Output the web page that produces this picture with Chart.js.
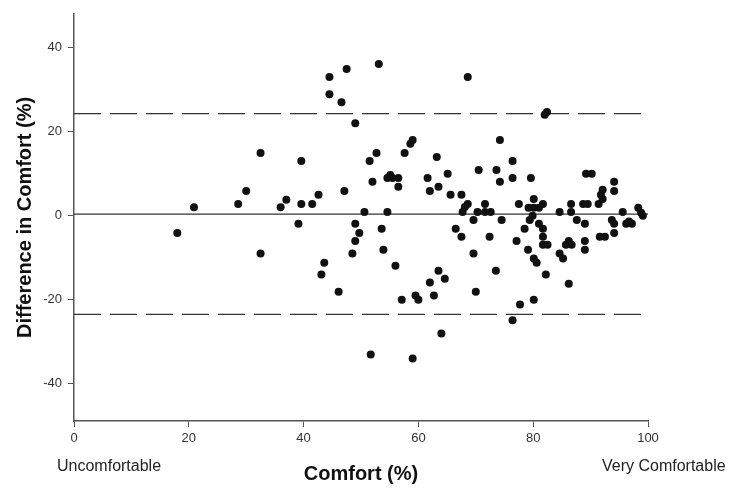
<!DOCTYPE html>
<html>
<head>
<meta charset="utf-8">
<title>Comfort - Bland-Altman</title>
<script src="https://cdn.jsdelivr.net/npm/chart.js@4/dist/chart.umd.min.js"></script>
<style>
    html, body { margin: 0; padding: 0; background: #fff; }
    #wrap { width: 735px; height: 494px; }
</style>
</head>
<body>
<div id="wrap"><canvas id="baChart" width="735" height="494"></canvas></div>
<script>
// Valeurs (moyenne de confort, différence)
const comfort = [
    18.0, 20.9, 28.6, 30.0, 32.5, 32.5, 36.0, 37.0, 39.6, 39.1, 39.6, 41.5, 42.6, 43.1, 43.6,
    44.5, 44.5, 47.5, 46.6, 49.0, 47.1, 46.1, 53.1, 52.7, 51.5, 52.0, 50.6, 54.6, 49.0, 49.7,
    49.0, 48.5, 53.6, 53.9, 56.0, 51.7, 59.0, 57.1, 59.5, 60.0, 62.0, 62.7, 63.5, 64.6, 64.0,
    57.6, 58.6, 59.0, 55.1, 54.6, 55.5, 56.5, 56.5, 61.6, 62.0, 63.2, 63.5, 65.1, 65.6, 67.5,
    68.6, 70.5, 67.7, 68.1, 68.6, 66.5, 67.5, 69.6, 69.6, 70.0, 70.3, 71.6, 72.6, 71.6, 72.4,
    73.5, 74.5, 73.6, 74.2, 76.4, 74.2, 76.4, 79.6, 77.5, 77.1, 77.7, 76.4, 78.5, 79.1, 80.1,
    80.6, 80.1, 79.4, 79.9, 80.1, 79.2, 80.1, 81.0, 81.7, 82.4, 82.0, 81.0, 81.7, 81.7, 81.7,
    82.5, 82.2, 84.6, 86.6, 86.6, 84.6, 85.2, 85.7, 86.2, 86.7, 86.2, 87.6, 89.0, 88.7, 89.5,
    89.2, 90.2, 89.0, 89.0, 91.6, 92.5, 91.8, 92.1, 91.4, 92.1, 94.1, 94.1, 93.7, 94.1, 94.1,
    95.6, 96.2, 96.7, 97.2, 98.3, 98.8, 99.1
];
const difference = [
    -4.2, 1.9, 2.7, 5.8, 14.8, -9.1, 1.9, 3.7, 12.9, -2.0, 2.7, 2.7, 4.9, -14.1, -11.3,
    32.9, 28.8, 34.8, 26.9, 21.9, 5.8, -18.2, 36.0, 14.8, 12.9, 8.0, 0.8, 0.8, -2.0, -4.2,
    -6.1, -9.1, -3.2, -8.2, -12.0, -33.1, -34.1, -20.1, -19.1, -20.1, -16.0, -19.1, -13.2, -15.1, -28.1,
    14.8, 17.0, 17.9, 9.6, 8.9, 8.9, 8.9, 6.8, 8.9, 5.8, 13.9, 6.8, 9.9, 4.9, 4.9,
    32.9, 10.8, 0.8, 2.0, 2.7, -3.2, -5.1, -1.1, -9.1, -18.2, 0.8, 0.8, 0.8, 2.7, -5.1,
    -13.2, -1.1, 10.8, 17.9, 12.9, 8.0, 8.9, 8.9, 2.7, -6.1, -21.2, -25.0, -3.2, -8.2, -10.3,
    -11.3, -20.1, -1.1, -0.1, 3.9, 1.8, 1.8, 1.8, 2.7, 24.6, 23.9, -2.0, -3.2, -5.1, -7.0,
    -7.0, -14.1, 0.8, 0.8, 2.7, -9.1, -10.3, -7.0, -6.1, -7.0, -16.3, -1.1, -2.0, 2.7, 2.7,
    9.9, 9.9, -6.1, -8.2, -5.1, -5.1, 4.9, 3.9, 2.7, 6.1, 8.0, 5.8, -1.1, -2.0, -4.2,
    0.8, -2.0, -1.5, -2.0, 1.8, 0.6, -0.1
];

// Biais moyen et limites d'accord
const meanDiff = 0.3;
const upperLimit = 24.2;
const lowerLimit = -23.6;

// Graduations
const xTicks = [0, 20, 40, 60, 80, 100];
const yTicks = [-40, -20, 0, 20, 40];
const xRange = [0, 100];
const yRange = [-48.95, 47.95];

const points = comfort.map((c, i) => ({ x: c, y: difference[i] }));

function hLine(value) {
    return [{ x: xRange[0], y: value }, { x: xRange[1], y: value }];
}

// Textes sous l'axe des x
const endLabels = {
    id: 'endLabels',
    afterDraw(chart) {
        const ctx = chart.ctx;
        ctx.save();
        ctx.font = '16px "Liberation Sans", Arial, sans-serif';
        ctx.fillStyle = '#222';
        ctx.textBaseline = 'middle';
        ctx.textAlign = 'left';
        ctx.fillText('Uncomfortable', 57, 467);
        ctx.fillText('Very Comfortable', 602, 467);
        ctx.restore();
    }
};

const axisColor = '#555';
const tickFont = { family: '"Liberation Sans", Arial, sans-serif', size: 13 };
const titleFont = { family: '"Liberation Sans", Arial, sans-serif', size: 20, weight: 'bold' };

new Chart(document.getElementById('baChart'), {
    type: 'scatter',
    data: {
        datasets: [
            {
                label: 'Difference',
                data: points,
                backgroundColor: '#111',
                borderColor: '#111',
                pointRadius: 4,
                pointHoverRadius: 4,
                borderWidth: 0
            },
            {
                label: 'Mean',
                data: hLine(meanDiff),
                showLine: true,
                borderColor: '#333',
                borderWidth: 1.2,
                pointRadius: 0
            },
            {
                label: 'Upper limit',
                data: hLine(upperLimit),
                showLine: true,
                borderColor: '#333',
                borderWidth: 1.3,
                borderDash: [27, 9],
                pointRadius: 0
            },
            {
                label: 'Lower limit',
                data: hLine(lowerLimit),
                showLine: true,
                borderColor: '#333',
                borderWidth: 1.3,
                borderDash: [27, 9],
                pointRadius: 0
            }
        ]
    },
    options: {
        responsive: false,
        devicePixelRatio: 1,
        animation: false,
        layout: { padding: { top: 5, right: 87, left: 0, bottom: 0 } },
        plugins: {
            legend: { display: false },
            tooltip: { enabled: false }
        },
        scales: {
            x: {
                type: 'linear',
                min: xRange[0],
                max: xRange[1],
                afterBuildTicks: axis => { axis.ticks = xTicks.map(v => ({ value: v })); },
                afterFit: scale => { scale.height = 73; },
                grid: { drawOnChartArea: false, drawTicks: true, tickLength: 6, color: axisColor },
                border: { display: true, color: axisColor, width: 1.5 },
                ticks: { color: '#333', font: tickFont, padding: 4, maxRotation: 0 },
                title: { display: true, text: 'Comfort (%)', color: '#111', font: titleFont, padding: { top: 0, bottom: 8 } }
            },
            y: {
                type: 'linear',
                min: yRange[0],
                max: yRange[1],
                afterBuildTicks: axis => { axis.ticks = yTicks.map(v => ({ value: v })); },
                afterFit: scale => { scale.width = 74; },
                grid: { drawOnChartArea: false, drawTicks: true, tickLength: 6, color: axisColor },
                border: { display: true, color: axisColor, width: 1.5 },
                ticks: { color: '#333', font: tickFont, padding: 6 },
                title: { display: true, text: 'Difference in Comfort (%)', color: '#111', font: titleFont, padding: { top: 13, bottom: 0 } }
            }
        }
    },
    plugins: [endLabels]
});
</script>
</body>
</html>
